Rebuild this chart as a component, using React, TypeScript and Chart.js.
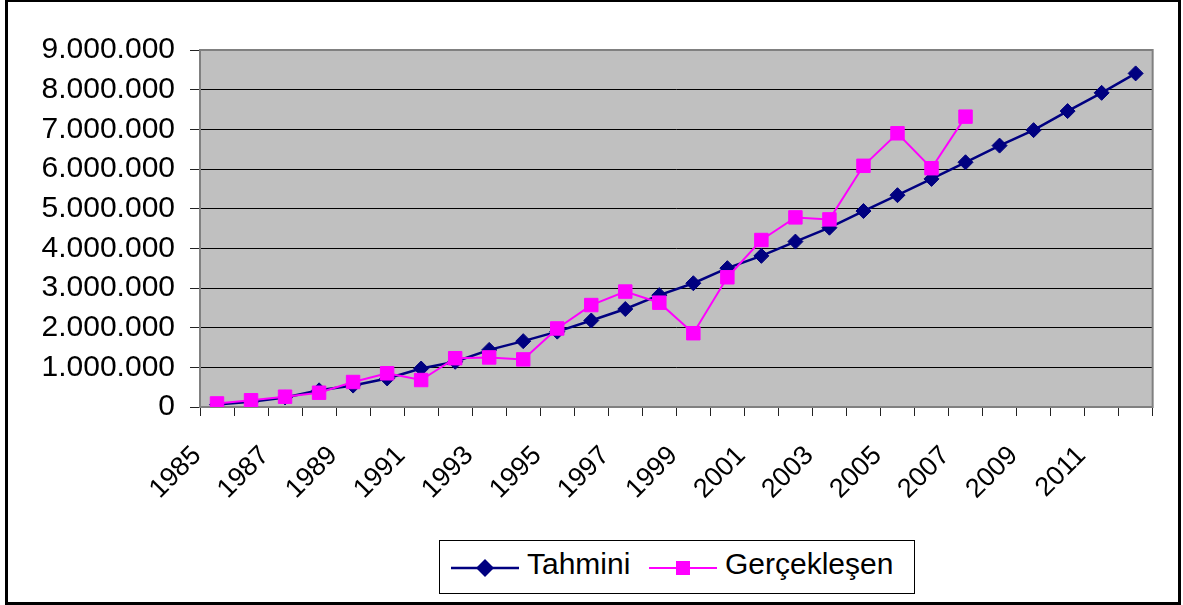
import React, { useEffect, useRef } from "react";
import { Chart, registerables } from "chart.js";

Chart.register(...registerables);

const years = [
  "1985", "1986", "1987", "1988", "1989", "1990", "1991", "1992", "1993", "1994",
  "1995", "1996", "1997", "1998", "1999", "2000", "2001", "2002", "2003", "2004",
  "2005", "2006", "2007", "2008", "2009", "2010", "2011", "2012",
];

const tahmini = [
  60000, 130000, 240000, 420000, 540000, 720000, 970000, 1140000, 1440000, 1660000,
  1900000, 2180000, 2470000, 2820000, 3120000, 3500000, 3810000, 4170000, 4520000, 4940000,
  5340000, 5750000, 6170000, 6590000, 6980000, 7460000, 7920000, 8410000,
];

const gerceklesen = [
  90000, 170000, 260000, 360000, 630000, 850000, 680000, 1230000, 1250000, 1200000,
  1980000, 2570000, 2910000, 2630000, 1860000, 3270000, 4210000, 4780000, 4730000, 6080000,
  6900000, 6020000, 7320000, null, null, null, null, null,
];

const seriesNames = ["Tahmini", "Gerçekleşen"];
const yMax = 9000000;
const yStep = 1000000;

const NAVY = "#000080";
const PINK = "#FF00FF";
const FONT = "'Liberation Sans', Arial, sans-serif";

function fmt(v: number): string {
  return String(Math.round(v)).replace(/\B(?=(\d{3})+(?!\d))/g, ".");
}

const plotFrame = {
  id: "plotFrame",
  beforeDraw(chart: any) {
    const { ctx, chartArea } = chart;
    const { left, top, right, bottom } = chartArea;
    ctx.save();
    ctx.fillStyle = "#FFFFFF";
    ctx.fillRect(0, 0, chart.width, chart.height);
    ctx.fillStyle = "#C0C0C0";
    ctx.fillRect(left, top, right - left, bottom - top);
    ctx.restore();
  },
  beforeDatasetsDraw(chart: any) {
    const { ctx, chartArea } = chart;
    const { left, top, right, bottom } = chartArea;
    ctx.save();
    ctx.strokeStyle = "#808080";
    ctx.lineWidth = 2;
    ctx.strokeRect(left, top, right - left, bottom - top);
    ctx.restore();
  },
};

export default function App() {
  const canvasRef = useRef<HTMLCanvasElement | null>(null);

  useEffect(() => {
    document.body.style.margin = "0";
    const canvas = canvasRef.current;
    if (!canvas) return;
    const chart = new Chart(canvas, {
      type: "line",
      data: {
        labels: years,
        datasets: [
          {
            label: seriesNames[0],
            data: tahmini,
            borderColor: NAVY,
            backgroundColor: NAVY,
            borderWidth: 2.5,
            pointStyle: "rectRot",
            pointRadius: 7.5,
            pointBorderWidth: 1,
            pointBackgroundColor: NAVY,
            pointBorderColor: NAVY,
            order: 1,
            tension: 0,
          },
          {
            label: seriesNames[1],
            data: gerceklesen,
            borderColor: PINK,
            backgroundColor: PINK,
            borderWidth: 2,
            pointStyle: "rect",
            pointRadius: 9.5,
            pointBorderWidth: 1,
            pointBackgroundColor: PINK,
            pointBorderColor: PINK,
            order: 0,
            tension: 0,
            spanGaps: false,
          },
        ],
      },
      options: {
        responsive: false,
        animation: false,
        devicePixelRatio: 1,
        layout: { padding: { top: 50, right: 25, left: 0, bottom: 0 } },
        plugins: {
          legend: { display: false },
          tooltip: { enabled: false },
        },
        scales: {
          x: {
            type: "category",
            offset: true,
            grid: {
              offset: true,
              drawOnChartArea: false,
              drawTicks: true,
              tickLength: 9,
              tickColor: "#222",
              color: "#222",
            },
            border: { display: false },
            ticks: {
              autoSkip: false,
              minRotation: 45,
              maxRotation: 45,
              padding: 24,
              labelOffset: -20,
              color: "#000",
              font: { family: FONT, size: 27 },
              callback: (_v: any, i: number) => (i % 2 === 0 ? years[i] : ""),
            },
            afterFit: (scale: any) => {
              scale.height = 198;
            },
          },
          y: {
            min: 0,
            max: yMax,
            grid: {
              color: "#000",
              lineWidth: 1,
              drawTicks: true,
              tickLength: 10,
              tickColor: "#222",
            },
            border: { display: false },
            ticks: {
              stepSize: yStep,
              padding: 15,
              color: "#000",
              font: { family: FONT, size: 30 },
              callback: (v: any) => fmt(Number(v)),
            },
            afterFit: (scale: any) => {
              scale.width = 200;
            },
          },
        },
      },
      plugins: [plotFrame],
    });
    return () => chart.destroy();
  }, []);

  const textStyle: React.CSSProperties = {
    position: "absolute",
    fontFamily: FONT,
    fontSize: 30,
    lineHeight: "30px",
    color: "#000",
    whiteSpace: "nowrap",
  };

  return (
    <div style={{ position: "relative", width: 1183, height: 605, background: "#fff", overflow: "hidden" }}>
      <canvas ref={canvasRef} width={1183} height={605} style={{ position: "absolute", left: 0, top: 0 }} />
      <div
        style={{
          position: "absolute",
          left: 5,
          top: -1,
          width: 1176,
          height: 606,
          border: "3px solid #000",
          boxSizing: "border-box",
          pointerEvents: "none",
        }}
      />
      <div
        style={{
          position: "absolute",
          left: 439,
          top: 540,
          width: 476,
          height: 54,
          border: "1px solid #000",
          boxSizing: "border-box",
          background: "#fff",
        }}
      />
      <svg style={{ position: "absolute", left: 451, top: 557 }} width={68} height={22}>
        <line x1={0} y1={11} x2={68} y2={11} stroke={NAVY} strokeWidth={2.5} />
        <polygon points="34,2 43,11 34,20 25,11" fill={NAVY} />
      </svg>
      <div style={{ ...textStyle, left: 527, top: 549 }}>{seriesNames[0]}</div>
      <svg style={{ position: "absolute", left: 649, top: 557 }} width={68} height={22}>
        <line x1={0} y1={11} x2={68} y2={11} stroke={PINK} strokeWidth={2} />
        <rect x={27} y={4} width={14} height={14} fill={PINK} />
      </svg>
      <div style={{ ...textStyle, left: 725, top: 549 }}>{seriesNames[1]}</div>
    </div>
  );
}
